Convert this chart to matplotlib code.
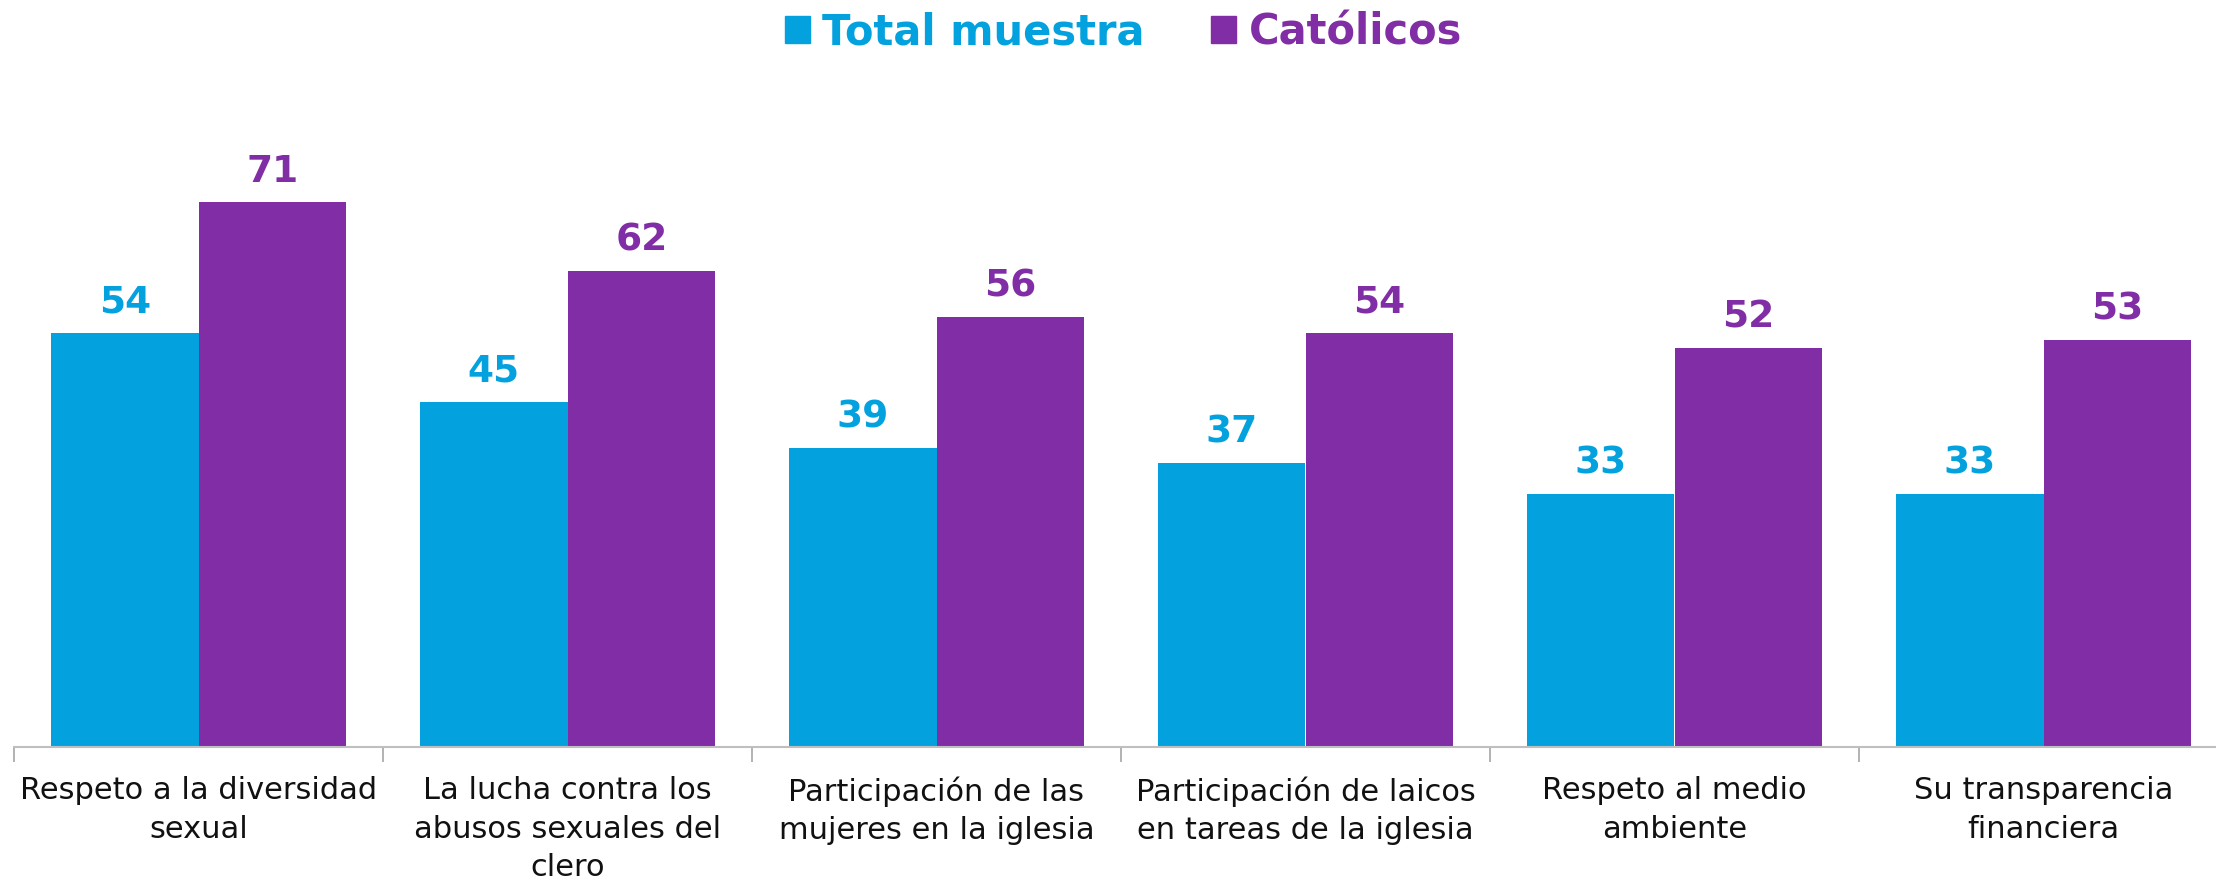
import matplotlib.pyplot as plt
import numpy as np
from matplotlib.patches import Patch

# datos
categorias = ["Respeto a la diversidad\nsexual",
              "La lucha contra los\nabusos sexuales del\nclero",
              "Participación de las\nmujeres en la iglesia",
              "Participación de laicos\nen tareas de la iglesia",
              "Respeto al medio\nambiente",
              "Su transparencia\nfinanciera"]
total_muestra = [54, 45, 39, 37, 33, 33]
catolicos = [71, 62, 56, 54, 52, 53]
series = ["Total muestra", "Católicos"]

azul = '#03A2DF'
morado = '#812DA5'

plt.rcParams['font.family'] = ['DejaVu Sans']

fig = plt.figure(figsize=(22.16, 8.8), dpi=100)
ax = fig.add_axes([14/2216, 1 - 747/880, 2214/2216, 614/880])

x = np.arange(len(categorias))
w = 0.4
b1 = ax.bar(x - w/2, total_muestra, w, color=azul)
b2 = ax.bar(x + w/2, catolicos, w, color=morado)

ax.bar_label(b1, padding=9, color=azul, fontsize=27, fontweight='bold')
ax.bar_label(b2, padding=9, color=morado, fontsize=27, fontweight='bold')

ax.set_xlim(-0.5, len(categorias) - 0.5)
ax.set_ylim(0, 80)

for s in ['top', 'right', 'left']:
    ax.spines[s].set_visible(False)
ax.spines['bottom'].set_color('#BFBFBF')
ax.spines['bottom'].set_linewidth(1.5)
ax.set_yticks([])

ax.set_xticks(x)
ax.set_xticklabels(categorias, fontsize=22, color='#111111', linespacing=1.42)
ax.tick_params(axis='x', which='major', length=0, pad=21)
ax.set_xticks(np.arange(len(categorias) + 1) - 0.5, minor=True)
ax.tick_params(axis='x', which='minor', length=11, width=1.2, color='#A6A6A6')

handles = [Patch(color=azul), Patch(color=morado)]
leg = fig.legend(handles, series, loc='upper center', bbox_to_anchor=(0.507, 1.03),
                 ncol=2, frameon=False, handlelength=0.6, handleheight=0.6,
                 handletextpad=0.3, columnspacing=1.6,
                 prop={'weight': 'bold', 'size': 30})
for t, c in zip(leg.get_texts(), [azul, morado]):
    t.set_color(c)

fig.savefig('out.png', dpi=100)
